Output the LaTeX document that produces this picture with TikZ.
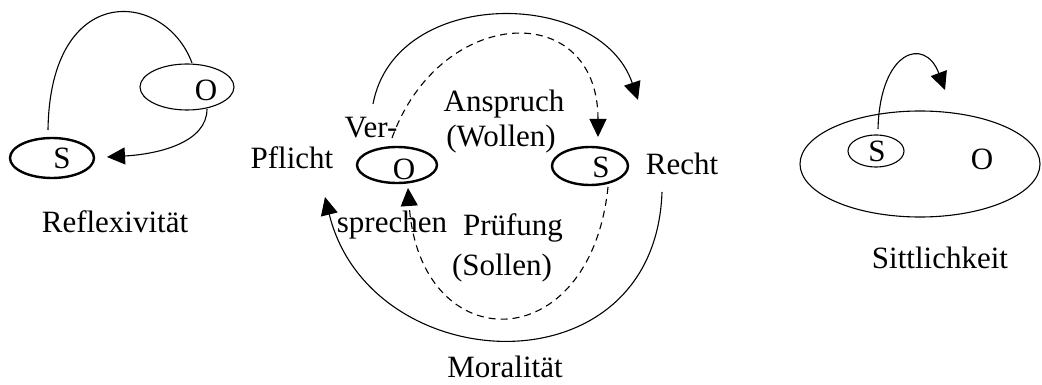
\documentclass[tikz,border=0pt]{standalone}
\usepackage{fontspec}
\setmainfont{Liberation Serif}
\usetikzlibrary{arrows.meta,shapes.geometric}
\begin{document}
\begin{tikzpicture}[x=1pt,y=-1pt,
  lbl/.style={anchor=base,inner sep=0pt,font=\fontsize{31}{36}\selectfont},
  oval/.style={ellipse,draw,inner sep=0pt,line width=1.1pt},
  boldoval/.style={oval,line width=2.4pt},
  link/.style={line width=1.1pt},
  tip/.style={-{Triangle[length=18pt,width=17pt]}},
  weak/.style={dash pattern=on 7pt off 5pt}]
\useasboundingbox (0,0) rectangle (1042,385);

% ---- Reflexivität ----
\node[boldoval,minimum width=84pt,minimum height=40pt] (rS) at (52,158) {};
\node[oval,minimum width=94pt,minimum height=46pt] (rO) at (187,87) {};
\node[lbl] (rSt) at (62,169) {S};
\node[lbl] (rOt) at (206,101) {O};
\node[lbl] (rTitle) at (115,232) {Reflexivität};
\coordinate (rA) at (48,130);
\coordinate (rB) at (192,63);
\coordinate (rC) at (207,109);
\coordinate (rD) at (107,157);
\draw[link] (rA) .. controls (50,-20) and (165,-10) .. (rB);
\draw[link,tip] (rC) .. controls (207,142) and (160,154) .. (rD);

% ---- Moralität ----
\node[boldoval,minimum width=80pt,minimum height=36pt] (mO) at (397,165) {};
\node[boldoval,minimum width=76pt,minimum height=38pt] (mS) at (590,166) {};
\node[lbl] (mOt) at (404,180) {O};
\node[lbl] (mSt) at (601,178) {S};
\node[lbl] (pf) at (292,169) {Pflicht};
\node[lbl] (re) at (682,175) {Recht};
\node[lbl] (ver) at (371,138) {Ver-};
\node[lbl] (spr) at (392,232) {sprechen};
\node[lbl] (ans) at (504,112) {Anspruch};
\node[lbl] (wol) at (501,147) {(Wollen)};
\node[lbl] (pru) at (513,235) {Prüfung};
\node[lbl] (sol) at (502,275) {(Sollen)};
\node[lbl] (mTitle) at (505,377) {Moralität};
\coordinate (mA) at (373,104);
\coordinate (mB) at (638,100);
\coordinate (mC) at (392,138);
\coordinate (mD) at (598,137);
\coordinate (mE) at (662,192);
\coordinate (mF) at (325,197);
\coordinate (mG) at (608,187);
\coordinate (mH) at (408,188);
\draw[link,tip] (mA) .. controls (395,-14) and (600,-12) .. (mB);
\draw[link,weak,tip] (mC) .. controls (440,5) and (598,-2) .. (mD);
\draw[link,tip] (mE) .. controls (655,395) and (370,380) .. (mF);
\draw[link,weak,tip] (mG) .. controls (590,360) and (420,360) .. (mH);

% ---- Sittlichkeit ----
\node[oval,minimum width=240pt,minimum height=106pt] (sBig) at (920,164) {};
\node[oval,minimum width=56pt,minimum height=32pt] (sS) at (876,151) {};
\node[lbl] (sSt) at (877,161) {S};
\node[lbl] (sOt) at (982,170) {O};
\node[lbl] (sTitle) at (940,268) {Sittlichkeit};
\coordinate (sA) at (878,129);
\coordinate (sB) at (945,90);
\draw[link,tip] (sA) .. controls (880,50) and (925,36) .. (sB);
\end{tikzpicture}
\end{document}
